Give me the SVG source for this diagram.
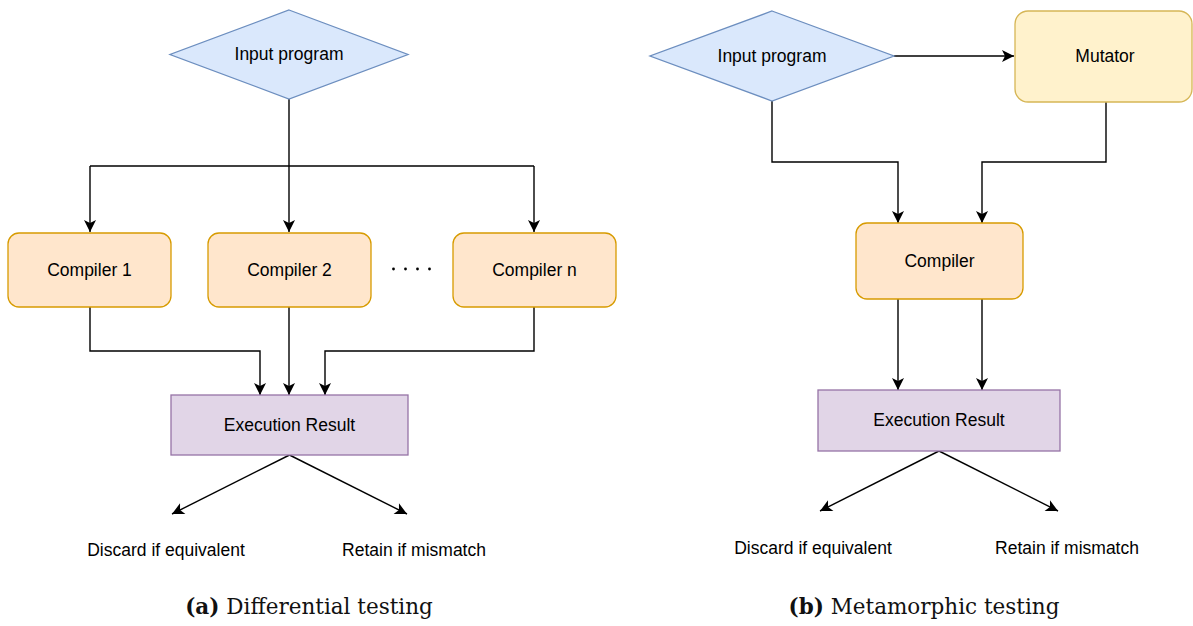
<svg xmlns="http://www.w3.org/2000/svg" width="1193" height="626" viewBox="0 0 1193 626">
  <defs>
    <marker id="arrow" viewBox="-13 -7 14 14" refX="0" refY="0" markerWidth="14" markerHeight="14" markerUnits="userSpaceOnUse" orient="auto">
      <path d="M0,0 L-12,-6 L-9,0 L-12,6 Z" fill="#000"/>
    </marker>
  </defs>
  <style>
    .lbl { font-family: "Liberation Sans", Arial, sans-serif; font-size: 17.5px; fill: #000; text-anchor: middle; }
    .cap { font-family: "DejaVu Serif", "Liberation Serif", serif; font-size: 21.5px; fill: #111; text-anchor: middle; }
    .input { fill: #dae8fc; stroke: #6c8ebf; stroke-width: 1.3; }
    .comp { fill: #ffe6cc; stroke: #d79b00; stroke-width: 1.3; }
    .mut { fill: #fff2cc; stroke: #d6b656; stroke-width: 1.3; }
    .exec { fill: #e1d5e7; stroke: #9673a6; stroke-width: 1.3; }
    .edge { fill: none; stroke: #000; stroke-width: 1.4; marker-end: url(#arrow); }
    .line { fill: none; stroke: #000; stroke-width: 1.4; }
  </style>

  <!-- (a) Differential testing -->
  <g id="a-connectors">
    <path class="line" d="M289,99 V166"/>
    <path class="line" d="M90,166 H534"/>
    <path class="edge" d="M90,166 V232"/>
    <path class="edge" d="M289,166 V232"/>
    <path class="edge" d="M534,166 V232"/>
    <path class="edge" d="M90,307 V351 H260 V395"/>
    <path class="edge" d="M289,307 V395"/>
    <path class="edge" d="M534,307 V351 H325 V395"/>
    <path class="edge" d="M289.5,455 L172,514"/>
    <path class="edge" d="M289.5,455 L407,514"/>
  </g>
  <g id="a-input">
    <polygon class="input" points="289,10 408,54.5 289,99 170,54.5"/>
    <text class="lbl" x="289" y="60">Input program</text>
  </g>
  <g id="a-compiler1">
    <rect class="comp" x="8" y="233" width="163" height="74" rx="11"/>
    <text class="lbl" x="89.5" y="276">Compiler 1</text>
  </g>
  <g id="a-compiler2">
    <rect class="comp" x="208" y="233" width="163" height="74" rx="11"/>
    <text class="lbl" x="289.5" y="276">Compiler 2</text>
  </g>
  <g id="a-dots" fill="#000">
    <circle cx="393.5" cy="269" r="1.4"/>
    <circle cx="405.5" cy="269" r="1.4"/>
    <circle cx="417.5" cy="269" r="1.4"/>
    <circle cx="429.5" cy="269" r="1.4"/>
  </g>
  <g id="a-compilern">
    <rect class="comp" x="453" y="233" width="163" height="74" rx="11"/>
    <text class="lbl" x="534.5" y="276">Compiler n</text>
  </g>
  <g id="a-exec">
    <rect class="exec" x="171" y="395" width="237" height="60"/>
    <text class="lbl" x="289.5" y="431">Execution Result</text>
  </g>
  <g id="a-outcomes">
    <text class="lbl" x="166" y="556">Discard if equivalent</text>
    <text class="lbl" x="414" y="556">Retain if mismatch</text>
  </g>
  <text class="cap" x="309" y="614"><tspan font-weight="bold">(a)</tspan> Differential testing</text>

  <!-- (b) Metamorphic testing -->
  <g id="b-connectors">
    <path class="edge" d="M894,56 H1014"/>
    <path class="edge" d="M772,101 V162 H898 V223"/>
    <path class="edge" d="M1106,102 V162 H982 V223"/>
    <path class="edge" d="M898,299 V390"/>
    <path class="edge" d="M982,299 V390"/>
    <path class="edge" d="M939,451 L820,511"/>
    <path class="edge" d="M939,451 L1058,511"/>
  </g>
  <g id="b-input">
    <polygon class="input" points="772,11 894,56 772,101 650,56"/>
    <text class="lbl" x="772" y="62">Input program</text>
  </g>
  <g id="b-mutator">
    <rect class="mut" x="1015" y="11" width="177" height="91" rx="13"/>
    <text class="lbl" x="1105" y="62">Mutator</text>
  </g>
  <g id="b-compiler">
    <rect class="comp" x="856" y="223" width="167" height="76" rx="11"/>
    <text class="lbl" x="939.5" y="267">Compiler</text>
  </g>
  <g id="b-exec">
    <rect class="exec" x="818" y="390" width="242" height="61"/>
    <text class="lbl" x="939" y="426">Execution Result</text>
  </g>
  <g id="b-outcomes">
    <text class="lbl" x="813" y="554">Discard if equivalent</text>
    <text class="lbl" x="1067" y="554">Retain if mismatch</text>
  </g>
  <text class="cap" x="924" y="614"><tspan font-weight="bold">(b)</tspan> Metamorphic testing</text>
</svg>
